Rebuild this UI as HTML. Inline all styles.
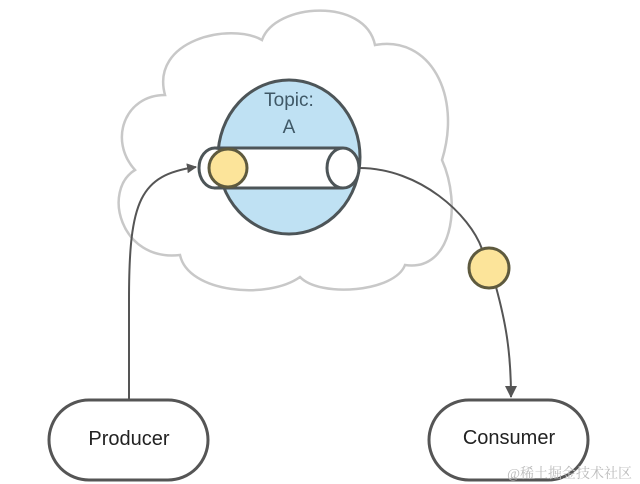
<!DOCTYPE html>
<html><head><style>html,body{margin:0;padding:0;background:#fff;}svg{display:block}</style></head>
<body>
<svg width="640" height="484" viewBox="0 0 640 484" xmlns="http://www.w3.org/2000/svg">
<defs><marker id="ar" markerWidth="10" markerHeight="10" refX="9" refY="5" orient="auto" markerUnits="userSpaceOnUse"><path d="M0,0 L10,5 L0,10 Z" fill="#555"/></marker>
<marker id="ar2" markerWidth="12" markerHeight="12" refX="11" refY="6" orient="auto" markerUnits="userSpaceOnUse"><path d="M0,0 L12,6 L0,12 Z" fill="#555"/></marker></defs>
<path d="M165,95 C150,40 230,22 262,40 C275,3 365,-3 375,45 C430,35 462,95 442,160 C462,205 452,272 405,265 C395,292 320,298 300,277 C268,300 188,293 180,255 C120,262 102,190 135,170 C108,140 125,95 165,95 Z" fill="#fff" stroke="#c8c8c8" stroke-width="2.5"/>
<ellipse cx="289" cy="157" rx="71" ry="77" fill="#bfe1f3" stroke="#4d5558" stroke-width="3"/>
<text x="289" y="106" font-family="Liberation Sans, sans-serif" font-size="19" fill="#3f5866" text-anchor="middle">Topic:</text>
<text x="289" y="133" font-family="Liberation Sans, sans-serif" font-size="19" fill="#3f5866" text-anchor="middle">A</text>
<rect x="214" y="148" width="129" height="40" fill="#fff"/>
<line x1="214" y1="148" x2="343" y2="148" stroke="#4d5558" stroke-width="3"/>
<line x1="214" y1="188" x2="343" y2="188" stroke="#4d5558" stroke-width="3"/>
<ellipse cx="215" cy="168" rx="16" ry="20" fill="#fff" stroke="#4d5558" stroke-width="3"/>
<circle cx="228" cy="168" r="19" fill="#fce49a" stroke="#5e5a3e" stroke-width="3"/>
<ellipse cx="343" cy="168" rx="16" ry="20" fill="#fff" stroke="#4d5558" stroke-width="3"/>
<path d="M129,399 L129,300 C129,200 140,175 196,167" fill="none" stroke="#555" stroke-width="2" marker-end="url(#ar)"/>
<path d="M359,168 C420,168 470,215 482,249" fill="none" stroke="#555" stroke-width="2"/>
<path d="M496,287 C505,320 511,350 511,397" fill="none" stroke="#555" stroke-width="2" marker-end="url(#ar2)"/>
<circle cx="489" cy="268" r="20" fill="#fce49a" stroke="#5e5a3e" stroke-width="3"/>
<rect x="49" y="400" width="159" height="80" rx="40" fill="#fff" stroke="#555" stroke-width="3"/>
<text x="129" y="445" font-family="Liberation Sans, sans-serif" font-size="20" fill="#222" text-anchor="middle">Producer</text>
<rect x="429" y="400" width="159" height="80" rx="40" fill="#fff" stroke="#555" stroke-width="3"/>
<text x="509" y="444" font-family="Liberation Sans, sans-serif" font-size="20" fill="#222" text-anchor="middle">Consumer</text>
<text x="632" y="478" font-family="Liberation Serif, 'Noto Serif CJK SC', serif" font-size="14" fill="#bbb" text-anchor="end">@稀土掘金技术社区</text>
</svg>
</body></html>
